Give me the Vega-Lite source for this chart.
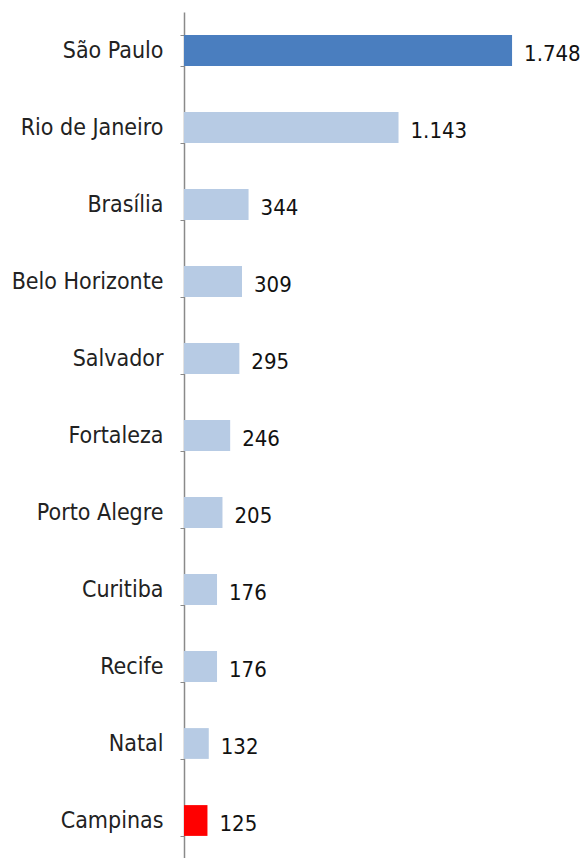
{
  "$schema": "https://vega.github.io/schema/vega-lite/v6.json",
  "autosize": {"type": "none"},
  "width": 399,
  "height": 847,
  "padding": {"left": 184, "top": 12, "right": 0, "bottom": 0},
  "background": "white",
  "config": {"view": {"stroke": null}},
  "data": {
    "values": [
      {"city": "São Paulo", "value": 1748, "label": "1.748", "group": "sp"},
      {"city": "Rio de Janeiro", "value": 1143, "label": "1.143", "group": "other"},
      {"city": "Brasília", "value": 344, "label": "344", "group": "other"},
      {"city": "Belo Horizonte", "value": 309, "label": "309", "group": "other"},
      {"city": "Salvador", "value": 295, "label": "295", "group": "other"},
      {"city": "Fortaleza", "value": 246, "label": "246", "group": "other"},
      {"city": "Porto Alegre", "value": 205, "label": "205", "group": "other"},
      {"city": "Curitiba", "value": 176, "label": "176", "group": "other"},
      {"city": "Recife", "value": 176, "label": "176", "group": "other"},
      {"city": "Natal", "value": 132, "label": "132", "group": "other"},
      {"city": "Campinas", "value": 125, "label": "125", "group": "campinas"}
    ]
  },
  "encoding": {
    "y": {
      "field": "city",
      "type": "nominal",
      "sort": null,
      "scale": {"paddingInner": 0.6, "paddingOuter": 0.3},
      "axis": {
        "title": null,
        "labelFont": "DejaVu Sans Condensed",
        "labelFontSize": 23,
        "labelColor": "#222222",
        "labelPadding": 17,
        "labelLimit": 200,
        "domainColor": "#8a8a8a",
        "domainWidth": 1.5,
        "tickColor": "#8a8a8a",
        "tickSize": 4,
        "tickBand": "extent",
        "grid": false
      }
    },
    "x": {
      "field": "value",
      "type": "quantitative",
      "scale": {"domain": [0, 2126], "nice": false},
      "axis": null
    }
  },
  "layer": [
    {
      "mark": {"type": "bar"},
      "encoding": {
        "color": {
          "field": "group",
          "type": "nominal",
          "scale": {"domain": ["sp", "other", "campinas"], "range": ["#4a7ebf", "#b7cbe4", "#ff0000"]},
          "legend": null
        }
      }
    },
    {
      "mark": {
        "type": "text",
        "align": "left",
        "baseline": "middle",
        "dx": 12,
        "dy": 3,
        "font": "DejaVu Sans Condensed",
        "fontSize": 22,
        "color": "#111111"
      },
      "encoding": {"text": {"field": "label"}}
    }
  ]
}
